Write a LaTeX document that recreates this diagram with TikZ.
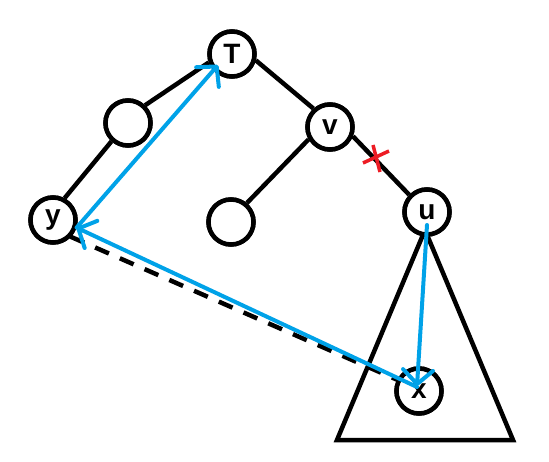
\documentclass[tikz,border=0pt]{standalone}
\usepackage{fontspec}
\setmainfont{Liberation Sans}
\usetikzlibrary{arrows.meta,calc}
\definecolor{pblue}{HTML}{00A2E8}
\definecolor{pred}{HTML}{ED1C24}
\begin{document}
\begin{tikzpicture}[x=1pt,y=-1pt,
  vert/.style={circle,draw=black,line width=4.5pt,fill=white,minimum size=45pt,inner sep=0pt,
    font=\fontsize{28}{28}\selectfont\bfseries},
  treeedge/.style={line width=4.5pt},
  dashedge/.style={line width=4.5pt,dash pattern=on 15pt off 12pt,dash phase=8pt},
  bluearrow/.style={pblue,line width=4pt,line cap=round,
    -{Straight Barb[length=14pt,width=30pt,line cap=round,line join=round]}},
  cross/.style={pred,line width=3.5pt}]
\useasboundingbox (0,0) rectangle (549,462);
% subtree triangle
\coordinate (apex) at (425,230);
\coordinate (bl) at (337,440);
\coordinate (br) at (513,440);
\draw[line width=4.5pt,line join=miter] (apex) -- (bl) -- (br) -- cycle;
% nodes (positions)
\path (232,54) node[vert] (T) {T}
      (128,123) node[vert] (A) {}
      (53,220) node[vert] (y) {y}
      (330,127) node[vert] (v) {v}
      (231,222) node[vert] (B) {}
      (427,212) node[vert] (u) {u}
      (419,391) node[vert] (x) {x};
% dashed path y -- x
\draw[dashedge] ([shift={(0,9)}]y.center) -- ([shift={(-19,-10)}]x.center);
% tree edges
\draw[treeedge] (A.46) -- (T.200);
\draw[treeedge] (A.228) -- (y.62);
\draw[treeedge] (T.-15) -- (v.132);
\draw[treeedge] (v.210) -- (B.50);
\draw[treeedge] (v.-22) -- (u.136);
% redraw nodes on top
\path (232,54) node[vert] {T}
      (128,123) node[vert] {}
      (53,220) node[vert] {y}
      (330,127) node[vert] {v}
      (231,222) node[vert] {}
      (427,212) node[vert] {u}
      (419,391) node[vert] {x};
% red cross on edge v--u
\draw[cross] (363,163) -- (389,151) (373,145) -- (380,172);
% blue arrows
\draw[bluearrow] (y.-18) -- ([shift={(-14,11)}]T.center);
\draw[bluearrow] ([shift={(-2,-4)}]x.center) -- (y.-18);
\draw[bluearrow] ([shift={(0,13)}]u.center) -- ([shift={(-2,-5)}]x.center);
\end{tikzpicture}
\end{document}
